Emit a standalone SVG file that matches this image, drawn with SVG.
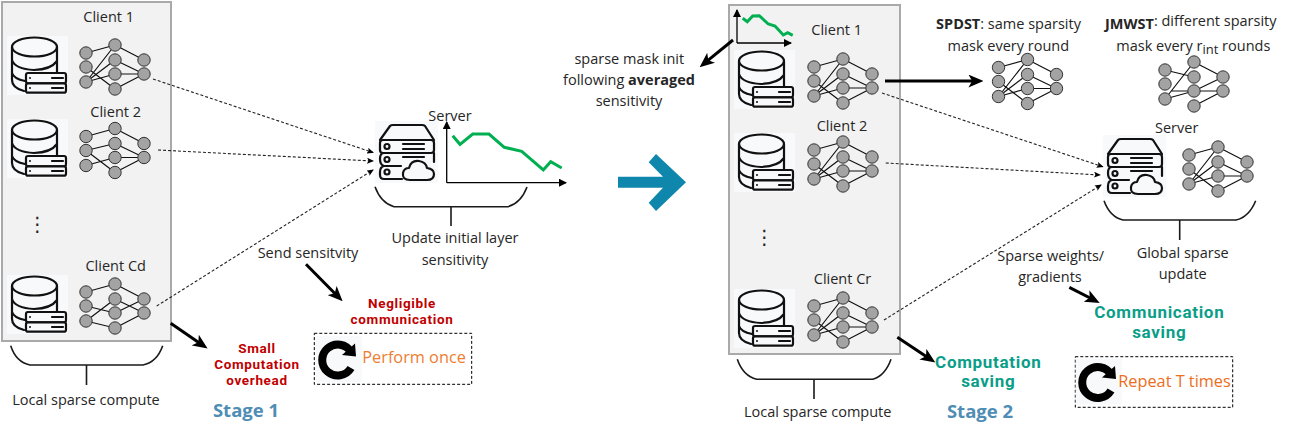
<svg xmlns="http://www.w3.org/2000/svg" width="1295" height="430" viewBox="0 0 1295 430">
<style>
text{font-family:"Open Sans","Noto Sans","Liberation Sans",sans-serif;font-size:14.5px;fill:#262626;text-anchor:middle}
.st{text-anchor:start}
.b{font-weight:700}
.red{font-family:Roboto,"Open Sans",sans-serif;font-size:13.5px;font-weight:700;fill:#c00000;letter-spacing:.65px}
.teal{font-family:Roboto,"Open Sans",sans-serif;font-size:17px;font-weight:700;fill:#0a9e88;letter-spacing:.7px}
.stage{font-size:18.5px;font-weight:700;fill:#4f8db5}
.org{font-size:16.300px;fill:#ed7d31}
.panel{fill:#f2f2f2;stroke:#a9a9a9;stroke-width:2}
.edge{stroke:#111;stroke-width:1.2;fill:none}
.nd{fill:#a3a3a3;stroke:#333;stroke-width:1}
.ic{fill:none;stroke:#111;stroke-width:2.200;stroke-linecap:round;stroke-linejoin:round}
.icf{fill:#f8f9fb;stroke:#111;stroke-width:2.200;stroke-linejoin:round}
.bg{fill:#f8f9fb}
.brace{fill:none;stroke:#1a1a1a;stroke-width:1.6}
.dash{fill:none;stroke:#222;stroke-width:1.1;stroke-dasharray:3 2}
.thick{fill:none;stroke:#000;stroke-width:3}
.axis{fill:none;stroke:#000;stroke-width:1.3}
.green{fill:none;stroke:#00b050;stroke-width:3}
.box{fill:none;stroke:#000;stroke-width:1;stroke-dasharray:3 2}
</style>
<defs>
<marker id="mThick" markerUnits="userSpaceOnUse" markerWidth="15" markerHeight="13" viewBox="0 0 14 12" refX="8" refY="6" orient="auto"><path d="M0 0L14 6L0 12L3.5 6z" fill="#000"/></marker>
<marker id="mDash" markerUnits="userSpaceOnUse" markerWidth="7" markerHeight="6" viewBox="0 0 7 6" refX="6" refY="3" orient="auto"><path d="M0 0L7 3L0 6L1.5 3z" fill="#000"/></marker>
<marker id="mAxis" markerUnits="userSpaceOnUse" markerWidth="8" markerHeight="8" viewBox="0 0 8 8" refX="7" refY="4" orient="auto"><path d="M0 0L8 4L0 8z" fill="#000"/></marker>
<g id="nodes">
<circle class="nd" cx="86" cy="53" r="6.200"/><circle class="nd" cx="86" cy="67" r="6.200"/><circle class="nd" cx="86" cy="82" r="6.200"/>
<circle class="nd" cx="115" cy="45" r="6.200"/><circle class="nd" cx="115" cy="60" r="6.200"/><circle class="nd" cx="115" cy="74" r="6.200"/><circle class="nd" cx="115" cy="89" r="6.200"/>
<circle class="nd" cx="144" cy="60" r="6.200"/><circle class="nd" cx="144" cy="74" r="6.200"/>
</g>
<g id="netA"><path class="edge" d="M86 53L115 45M86 67L115 89M86 82L115 45M86 82L115 60M86 82L115 74M115 45L144 60M115 60L144 74M115 74L144 74M115 89L144 74"/><use href="#nodes"/></g>
<g id="netB"><path class="edge" d="M86 53L115 45M86 67L115 60M86 82L115 74M86 67L115 89M115 45L144 60M115 60L144 74M115 74L144 74M115 89L144 74"/><use href="#nodes"/></g>
<g id="netC"><path class="edge" d="M86 53L115 45M86 67L115 74M86 82L115 60M86 82L115 89M115 45L144 60M115 60L144 74M115 74L144 60M115 89L144 74"/><use href="#nodes"/></g>
<g id="netD"><path class="edge" d="M86 53L115 60M92 74L115 74M86 82L115 45M86 82L115 74M115 45L144 60M115 74L144 60M115 74L144 74M115 89L144 74"/><use href="#nodes"/></g>
<g id="db">
<rect class="bg" width="61" height="59"/>
<ellipse class="ic" cx="27.5" cy="11" rx="22.5" ry="9.5"/>
<path class="ic" d="M5 11V44Q5 52 17 55M50 11V36M5 24Q8 33 27 34Q44 33.5 50 25M5 37Q7 43 18 45"/>
<rect class="icf" x="19" y="37" width="40" height="10.300" rx="2"/><rect class="icf" x="19" y="47.300" width="40" height="9.400" rx="2"/>
<circle cx="23" cy="42" r="1" fill="#111"/><circle cx="23" cy="52" r="1" fill="#111"/>
<path class="ic" d="M45 42H56M45 52H56"/>
</g>
<g id="srv">
<rect class="bg" width="63" height="62"/>
<path class="ic" d="M5 19L15 5Q16 4 18 4H47Q49 4 50 5L59 19"/>
<rect class="ic" x="5" y="19" width="54" height="13" rx="3"/>
<path class="ic" d="M59 32V41M9 32Q5 32 5 38T9 45H26M9 45Q5 46 5 51V54Q5 58 9 58H27"/>
<circle class="ic" cx="12" cy="25.500" r="2.500"/><circle class="ic" cx="12" cy="38.500" r="2.500"/><circle class="ic" cx="12" cy="51" r="2.500"/>
<path class="ic" d="M28 23H49M28 28H49M28 36H49"/>
<path class="icf" d="M35 59Q27 59 28 52Q29 47 34 47Q36 39 44 40Q51 41 52 47Q59 48 59 53Q59 59 52 59Z"/>
</g>
<g id="refresh">
<rect class="bg" x="315.700" y="336" width="46" height="46"/>
<path d="M351 352A15.500 15.500 0 1 0 351 368" fill="none" stroke="#000" stroke-width="8"/>
<path d="M355 343.500L356 356.500L342 355z" fill="#000"/>
</g>
</defs>

<g id="stage1-clients">
<rect class="panel" x="2" y="2" width="169" height="339"/>
<g id="client-1"><text x="108.700" y="22">Client 1</text><use href="#db" x="7" y="36"/><use href="#netA"/></g>
<g id="client-2"><text x="115.700" y="117">Client 2</text><use href="#db" x="7" y="119"/><use href="#netB" y="83.500"/></g>
<text id="dots-1" x="37.300" y="231" style="font-family:'DejaVu Sans',sans-serif;font-size:20px">⋮</text>
<g id="client-cd"><text x="115.700" y="270.700">Client Cd</text><use href="#db" x="7" y="275"/><use href="#netC" y="239"/></g>
</g>
<g id="stage1-brace"><path class="brace" d="M10.700 345.700Q16 362 30 365H143Q157 362 162.700 345.700M86.500 365V385"/><text x="86" y="405">Local sparse compute</text></g>

<g id="server-1">
<text x="450" y="120.700">Server</text>
<use href="#srv" x="375" y="121"/>
<path class="axis" marker-end="url(#mAxis)" d="M446.700 182.700V122"/>
<path class="axis" marker-end="url(#mAxis)" d="M446.700 182.700H566"/>
<polyline class="green" points="452.700,135.700 460,144.300 472.700,134 489,134 504.300,147.300 521.700,151.300 543.300,170 550.700,161.700 561.700,168"/>
<path class="brace" d="M375 186.700Q381 203 394 206.700H508Q521 203 527 187M451 206.700V226"/>
<text x="455" y="243.300">Update initial layer</text>
<text x="455" y="265">sensitivity</text>
</g>

<text id="send" x="308" y="258">Send sensitvity</text>
<g id="negligible"><text class="red" x="402" y="308">Negligible</text><text class="red" x="402" y="324">communication</text></g>
<g id="overhead"><text class="red" x="257" y="353">Small</text><text class="red" x="257" y="369">Computation</text><text class="red" x="257" y="384.800">overhead</text></g>
<text id="stage-1" class="stage" x="246" y="417">Stage 1</text>
<g id="perform-once"><rect class="box" x="314.300" y="333.300" width="157.400" height="51"/><use href="#refresh"/><text class="org st" x="362.300" y="363">Perform once</text></g>

<polygon id="big-arrow" fill="#0f87ad" points="618,176.700 663,176.700 648.700,162.300 656,154 686,182.300 656,211 648.700,202.700 663,187.700 618,187.700"/>

<g id="mask-note"><text x="629.300" y="64.300">sparse mask init</text><text x="629" y="85">following <tspan class="b">averaged</tspan></text><text x="629" y="106">sensitivity</text></g>

<g id="stage2-clients">
<rect class="panel" x="729" y="5" width="171" height="349"/>
<g id="client-1b">
<path class="axis" marker-end="url(#mAxis)" d="M737 43V10"/><path class="axis" marker-end="url(#mAxis)" d="M737 43H791"/>
<polyline class="green" points="742.700,18.300 747.300,21.700 752.700,16 759.300,15.700 768.300,24 775,26 783.300,35 787.700,32.700 792.700,35.300"/>
<text x="836.700" y="35">Client 1</text><use href="#db" x="734" y="50"/><use href="#netA" x="728" y="14"/></g>
<g id="client-2b"><text x="842" y="130.700">Client 2</text><use href="#db" x="734" y="133"/><use href="#netA" x="728" y="97"/></g>
<text id="dots-2" x="764.300" y="244" style="font-family:'DejaVu Sans',sans-serif;font-size:20px">⋮</text>
<g id="client-cr"><text x="842.500" y="284.300">Client Cr</text><use href="#db" x="734" y="289"/><use href="#netA" x="728" y="253"/></g>
</g>
<g id="stage2-brace"><path class="brace" d="M737.300 359.300Q743 376 756.700 379.300H872.700Q885 376 891 359.300M814 379.300V399"/><text x="817.700" y="416.700">Local sparse compute</text></g>

<g id="spdst"><text x="1008.500" y="29.300"><tspan class="b">SPDST</tspan>: same sparsity</text><text x="1008.300" y="50.700">mask every round</text><use href="#netA" x="912.500" y="14.500"/></g>
<g id="jmwst"><text class="st" x="1105" y="29.300"><tspan class="b">JMWST</tspan><tspan dy="-3">: different sparsity</tspan></text><text x="1193.300" y="50.700">mask every r<tspan dy="3.500" font-size="13">int</tspan><tspan dy="-3.500"> rounds</tspan></text><use href="#netD" x="1079" y="17"/></g>

<g id="server-2">
<text x="1176.700" y="133.300">Server</text>
<use href="#srv" x="1103" y="135"/>
<use href="#netA" x="1103" y="102"/>
<path class="brace" d="M1104 200.700Q1110 217 1123 220H1236Q1249 217 1255.700 200.700M1179.700 220V240"/>
<text x="1182.700" y="257.700">Global sparse</text>
<text x="1182.700" y="279">update</text>
</g>

<g id="sparse-weights"><text x="1050.700" y="260.700">Sparse weights/</text><text x="1050" y="281.700">gradients</text></g>
<g id="comm-saving"><text class="teal" x="1159.300" y="318">Communication</text><text class="teal" x="1159.300" y="337.700">saving</text></g>
<g id="comp-saving"><text class="teal" x="988.300" y="367.500">Computation</text><text class="teal" x="988.300" y="387.200">saving</text></g>
<text id="stage-2" class="stage" x="980" y="417.700">Stage 2</text>
<g id="repeat"><rect class="box" x="1075.300" y="356.700" width="157.400" height="50.600"/><use href="#refresh" x="760" y="22.500"/><text class="org st" x="1118.300" y="386.700" style="fill:#ed6d21">Repeat T times</text></g>

<g id="connectors">
<path class="dash" marker-end="url(#mDash)" d="M153 79L373 152.500"/>
<path class="dash" marker-end="url(#mDash)" d="M158 150L373 161"/>
<path class="dash" marker-end="url(#mDash)" d="M156.700 306L373 170"/>
<path class="dash" marker-end="url(#mDash)" d="M882 93L1102.700 166.700"/>
<path class="dash" marker-end="url(#mDash)" d="M885.700 163L1100 175"/>
<path class="dash" marker-end="url(#mDash)" d="M884 320L1101 185"/>
<path class="thick" marker-end="url(#mThick)" d="M170.700 323.300L202.300 344.900"/>
<path class="thick" marker-end="url(#mThick)" d="M306 264.300L338.100 296.700"/>
<path class="thick" marker-end="url(#mThick)" d="M897.300 337.300L930 359"/>
<path class="thick" marker-end="url(#mThick)" d="M1069.300 287.300L1094 300"/>
<path class="thick" marker-end="url(#mThick)" d="M733 40L704.600 63.200"/>
<path class="thick" marker-end="url(#mThick)" d="M885 81H977"/>
</g>
</svg>
